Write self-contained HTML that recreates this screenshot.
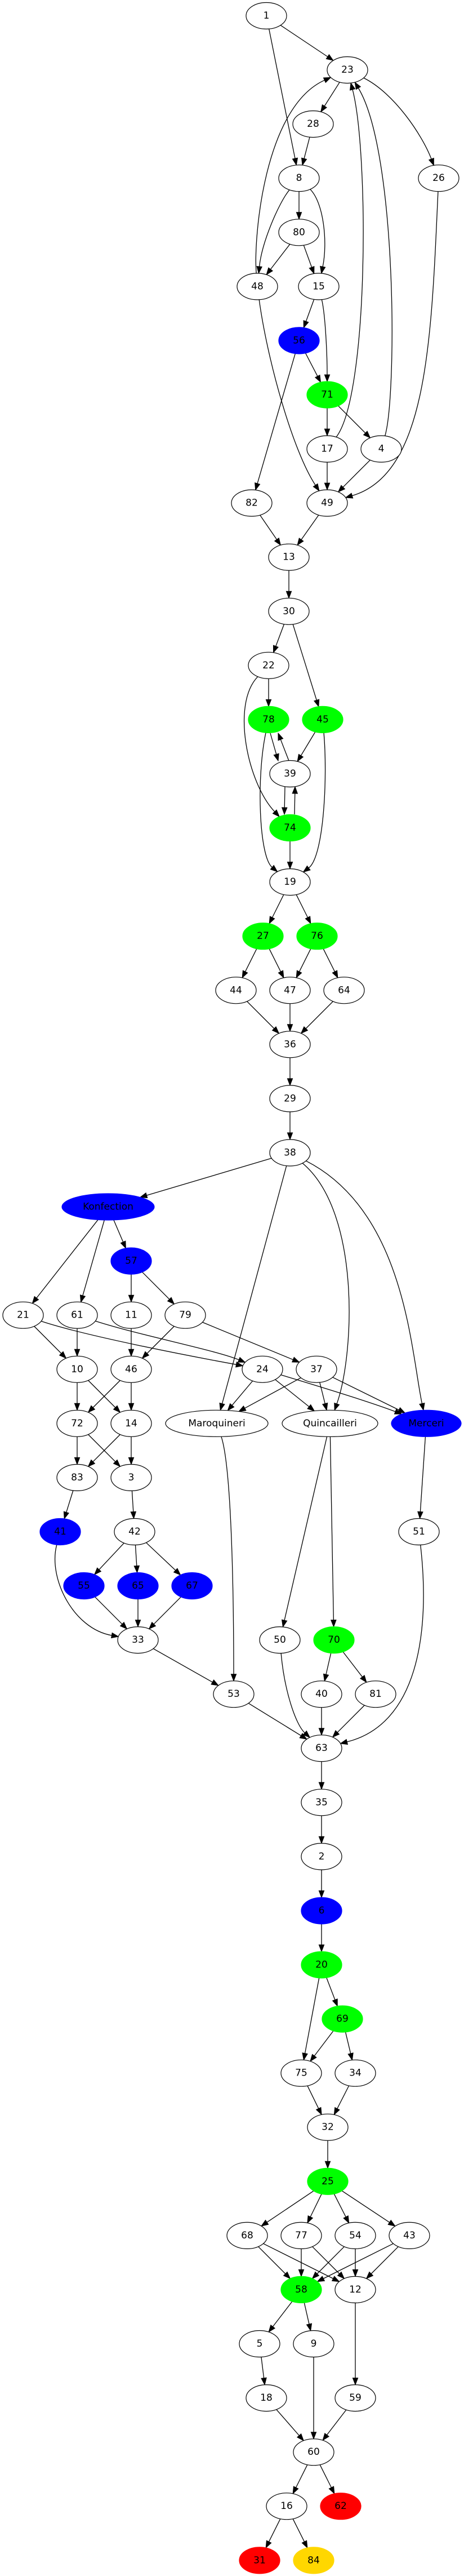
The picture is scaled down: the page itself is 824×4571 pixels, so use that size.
<!DOCTYPE html>
<html><head><meta charset="utf-8"><style>
html,body{margin:0;padding:0;background:#fff}
svg{display:block}
text{font-family:"DejaVu Sans","Liberation Sans",sans-serif;font-size:17px;fill:#000;stroke:none;text-anchor:middle;dominant-baseline:central}
</style></head><body>
<svg id="g" width="824" height="4571" viewBox="0 0 824 4571" xmlns="http://www.w3.org/2000/svg">
<g id="edges" stroke="#000" stroke-width="1.3" fill="none"></g>
<g id="arrows" fill="#000" stroke="#000" stroke-width="1"></g>
<g id="nodes" stroke="#000" stroke-width="1.2">
<ellipse cx="473" cy="28" rx="36" ry="23.5" fill="#fff"/><text x="473" y="28">1</text>
<ellipse cx="617" cy="124.1" rx="36" ry="23.5" fill="#fff"/><text x="617" y="124.1">23</text>
<ellipse cx="556" cy="220.1" rx="36" ry="23.5" fill="#fff"/><text x="556" y="220.1">28</text>
<ellipse cx="531" cy="316.2" rx="36" ry="23.5" fill="#fff"/><text x="531" y="316.2">8</text>
<ellipse cx="779" cy="316.2" rx="36" ry="23.5" fill="#fff"/><text x="779" y="316.2">26</text>
<ellipse cx="531" cy="412.3" rx="36" ry="23.5" fill="#fff"/><text x="531" y="412.3">80</text>
<ellipse cx="457" cy="508.4" rx="36" ry="23.5" fill="#fff"/><text x="457" y="508.4">48</text>
<ellipse cx="566" cy="508.4" rx="36" ry="23.5" fill="#fff"/><text x="566" y="508.4">15</text>
<ellipse cx="531" cy="604.4" rx="36" ry="23.5" fill="#0000ff" stroke="#0000ff"/><text x="531" y="604.4">56</text>
<ellipse cx="581" cy="700.5" rx="36" ry="23.5" fill="#00ff00" stroke="#00ff00"/><text x="581" y="700.5">71</text>
<ellipse cx="581" cy="796.6" rx="36" ry="23.5" fill="#fff"/><text x="581" y="796.6">17</text>
<ellipse cx="677" cy="796.6" rx="36" ry="23.5" fill="#fff"/><text x="677" y="796.6">4</text>
<ellipse cx="447" cy="892.6" rx="36" ry="23.5" fill="#fff"/><text x="447" y="892.6">82</text>
<ellipse cx="581" cy="892.6" rx="36" ry="23.5" fill="#fff"/><text x="581" y="892.6">49</text>
<ellipse cx="513" cy="988.7" rx="36" ry="23.5" fill="#fff"/><text x="513" y="988.7">13</text>
<ellipse cx="513" cy="1084.8" rx="36" ry="23.5" fill="#fff"/><text x="513" y="1084.8">30</text>
<ellipse cx="477" cy="1180.8" rx="36" ry="23.5" fill="#fff"/><text x="477" y="1180.8">22</text>
<ellipse cx="477" cy="1276.9" rx="36" ry="23.5" fill="#00ff00" stroke="#00ff00"/><text x="477" y="1276.9">78</text>
<ellipse cx="573" cy="1276.9" rx="36" ry="23.5" fill="#00ff00" stroke="#00ff00"/><text x="573" y="1276.9">45</text>
<ellipse cx="515" cy="1373" rx="36" ry="23.5" fill="#fff"/><text x="515" y="1373">39</text>
<ellipse cx="515" cy="1469" rx="36" ry="23.5" fill="#00ff00" stroke="#00ff00"/><text x="515" y="1469">74</text>
<ellipse cx="515" cy="1565.1" rx="36" ry="23.5" fill="#fff"/><text x="515" y="1565.1">19</text>
<ellipse cx="467" cy="1661.2" rx="36" ry="23.5" fill="#00ff00" stroke="#00ff00"/><text x="467" y="1661.2">27</text>
<ellipse cx="563" cy="1661.2" rx="36" ry="23.5" fill="#00ff00" stroke="#00ff00"/><text x="563" y="1661.2">76</text>
<ellipse cx="419" cy="1757.3" rx="36" ry="23.5" fill="#fff"/><text x="419" y="1757.3">44</text>
<ellipse cx="515" cy="1757.3" rx="36" ry="23.5" fill="#fff"/><text x="515" y="1757.3">47</text>
<ellipse cx="611" cy="1757.3" rx="36" ry="23.5" fill="#fff"/><text x="611" y="1757.3">64</text>
<ellipse cx="515" cy="1853.3" rx="36" ry="23.5" fill="#fff"/><text x="515" y="1853.3">36</text>
<ellipse cx="515" cy="1949.4" rx="36" ry="23.5" fill="#fff"/><text x="515" y="1949.4">29</text>
<ellipse cx="515" cy="2045.5" rx="36" ry="23.5" fill="#fff"/><text x="515" y="2045.5">38</text>
<ellipse cx="192" cy="2141.5" rx="82" ry="23.5" fill="#0000ff" stroke="#0000ff"/><text x="192" y="2141.5">Konfection</text>
<ellipse cx="233" cy="2237.6" rx="36" ry="23.5" fill="#0000ff" stroke="#0000ff"/><text x="233" y="2237.6">57</text>
<ellipse cx="41" cy="2333.7" rx="36" ry="23.5" fill="#fff"/><text x="41" y="2333.7">21</text>
<ellipse cx="137" cy="2333.7" rx="36" ry="23.5" fill="#fff"/><text x="137" y="2333.7">61</text>
<ellipse cx="233" cy="2333.7" rx="36" ry="23.5" fill="#fff"/><text x="233" y="2333.7">11</text>
<ellipse cx="329" cy="2333.7" rx="36" ry="23.5" fill="#fff"/><text x="329" y="2333.7">79</text>
<ellipse cx="137" cy="2429.8" rx="36" ry="23.5" fill="#fff"/><text x="137" y="2429.8">10</text>
<ellipse cx="233" cy="2429.8" rx="36" ry="23.5" fill="#fff"/><text x="233" y="2429.8">46</text>
<ellipse cx="466" cy="2429.8" rx="36" ry="23.5" fill="#fff"/><text x="466" y="2429.8">24</text>
<ellipse cx="562" cy="2429.8" rx="36" ry="23.5" fill="#fff"/><text x="562" y="2429.8">37</text>
<ellipse cx="137" cy="2525.8" rx="36" ry="23.5" fill="#fff"/><text x="137" y="2525.8">72</text>
<ellipse cx="233" cy="2525.8" rx="36" ry="23.5" fill="#fff"/><text x="233" y="2525.8">14</text>
<ellipse cx="385" cy="2525.8" rx="91" ry="23.5" fill="#fff"/><text x="385" y="2525.8">Maroquineri</text>
<ellipse cx="586" cy="2525.8" rx="85" ry="23.5" fill="#fff"/><text x="586" y="2525.8">Quincailleri</text>
<ellipse cx="757" cy="2525.8" rx="62" ry="23.5" fill="#0000ff" stroke="#0000ff"/><text x="757" y="2525.8">Merceri</text>
<ellipse cx="137" cy="2621.9" rx="36" ry="23.5" fill="#fff"/><text x="137" y="2621.9">83</text>
<ellipse cx="233" cy="2621.9" rx="36" ry="23.5" fill="#fff"/><text x="233" y="2621.9">3</text>
<ellipse cx="107" cy="2718" rx="36" ry="23.5" fill="#0000ff" stroke="#0000ff"/><text x="107" y="2718">41</text>
<ellipse cx="239" cy="2718" rx="36" ry="23.5" fill="#fff"/><text x="239" y="2718">42</text>
<ellipse cx="744" cy="2718" rx="36" ry="23.5" fill="#fff"/><text x="744" y="2718">51</text>
<ellipse cx="149" cy="2814" rx="36" ry="23.5" fill="#0000ff" stroke="#0000ff"/><text x="149" y="2814">55</text>
<ellipse cx="245" cy="2814" rx="36" ry="23.5" fill="#0000ff" stroke="#0000ff"/><text x="245" y="2814">65</text>
<ellipse cx="341" cy="2814" rx="36" ry="23.5" fill="#0000ff" stroke="#0000ff"/><text x="341" y="2814">67</text>
<ellipse cx="245" cy="2910.1" rx="36" ry="23.5" fill="#fff"/><text x="245" y="2910.1">33</text>
<ellipse cx="497" cy="2910.1" rx="36" ry="23.5" fill="#fff"/><text x="497" y="2910.1">50</text>
<ellipse cx="593" cy="2910.1" rx="36" ry="23.5" fill="#00ff00" stroke="#00ff00"/><text x="593" y="2910.1">70</text>
<ellipse cx="415" cy="3006.2" rx="36" ry="23.5" fill="#fff"/><text x="415" y="3006.2">53</text>
<ellipse cx="571" cy="3006.2" rx="36" ry="23.5" fill="#fff"/><text x="571" y="3006.2">40</text>
<ellipse cx="667" cy="3006.2" rx="36" ry="23.5" fill="#fff"/><text x="667" y="3006.2">81</text>
<ellipse cx="571" cy="3102.2" rx="36" ry="23.5" fill="#fff"/><text x="571" y="3102.2">63</text>
<ellipse cx="571" cy="3198.3" rx="36" ry="23.5" fill="#fff"/><text x="571" y="3198.3">35</text>
<ellipse cx="571" cy="3294.4" rx="36" ry="23.5" fill="#fff"/><text x="571" y="3294.4">2</text>
<ellipse cx="571" cy="3390.5" rx="36" ry="23.5" fill="#0000ff" stroke="#0000ff"/><text x="571" y="3390.5">6</text>
<ellipse cx="571" cy="3486.5" rx="36" ry="23.5" fill="#00ff00" stroke="#00ff00"/><text x="571" y="3486.5">20</text>
<ellipse cx="608" cy="3582.6" rx="36" ry="23.5" fill="#00ff00" stroke="#00ff00"/><text x="608" y="3582.6">69</text>
<ellipse cx="535" cy="3678.7" rx="36" ry="23.5" fill="#fff"/><text x="535" y="3678.7">75</text>
<ellipse cx="631" cy="3678.7" rx="36" ry="23.5" fill="#fff"/><text x="631" y="3678.7">34</text>
<ellipse cx="582" cy="3774.7" rx="36" ry="23.5" fill="#fff"/><text x="582" y="3774.7">32</text>
<ellipse cx="582" cy="3870.8" rx="36" ry="23.5" fill="#00ff00" stroke="#00ff00"/><text x="582" y="3870.8">25</text>
<ellipse cx="439" cy="3966.9" rx="36" ry="23.5" fill="#fff"/><text x="439" y="3966.9">68</text>
<ellipse cx="535" cy="3966.9" rx="36" ry="23.5" fill="#fff"/><text x="535" y="3966.9">77</text>
<ellipse cx="631" cy="3966.9" rx="36" ry="23.5" fill="#fff"/><text x="631" y="3966.9">54</text>
<ellipse cx="727" cy="3966.9" rx="36" ry="23.5" fill="#fff"/><text x="727" y="3966.9">43</text>
<ellipse cx="535" cy="4062.9" rx="36" ry="23.5" fill="#00ff00" stroke="#00ff00"/><text x="535" y="4062.9">58</text>
<ellipse cx="631" cy="4062.9" rx="36" ry="23.5" fill="#fff"/><text x="631" y="4062.9">12</text>
<ellipse cx="461" cy="4159" rx="36" ry="23.5" fill="#fff"/><text x="461" y="4159">5</text>
<ellipse cx="557" cy="4159" rx="36" ry="23.5" fill="#fff"/><text x="557" y="4159">9</text>
<ellipse cx="473" cy="4255.1" rx="36" ry="23.5" fill="#fff"/><text x="473" y="4255.1">18</text>
<ellipse cx="631" cy="4255.1" rx="36" ry="23.5" fill="#fff"/><text x="631" y="4255.1">59</text>
<ellipse cx="557" cy="4351.2" rx="36" ry="23.5" fill="#fff"/><text x="557" y="4351.2">60</text>
<ellipse cx="509" cy="4447.2" rx="36" ry="23.5" fill="#fff"/><text x="509" y="4447.2">16</text>
<ellipse cx="605" cy="4447.2" rx="36" ry="23.5" fill="#ff0000" stroke="#ff0000"/><text x="605" y="4447.2">62</text>
<ellipse cx="461" cy="4543.3" rx="36" ry="23.5" fill="#ff0000" stroke="#ff0000"/><text x="461" y="4543.3">31</text>
<ellipse cx="557" cy="4543.3" rx="36" ry="23.5" fill="#ffd700" stroke="#ffd700"/><text x="557" y="4543.3">84</text>
</g>
</svg>
<script>
(function(){
var N={};
var els=document.querySelectorAll('#nodes ellipse');
for(var i=0;i<els.length;i++){var e=els[i];var t=e.nextElementSibling.textContent;
N[t]={x:+e.getAttribute('cx'),y:+e.getAttribute('cy'),rx:+e.getAttribute('rx'),ry:+e.getAttribute('ry')};}
function bnd(n,dx,dy){var t=1/Math.sqrt((dx/n.rx)*(dx/n.rx)+(dy/n.ry)*(dy/n.ry));return [n.x+t*dx,n.y+t*dy];}
var E=[
['1','23'],['1','8'],['23','28'],['23','26',[700,165,750,240]],['28','8'],
['8','80'],['8','48',[495,360,465,430]],['8','15',[575,360,582,430]],['80','48'],['80','15'],
['48','23',[450,420,470,190]],['48','49',[475,640,520,800]],['15','56'],['15','71',[578,560,581,630]],
['56','71'],['56','82'],['71','17'],['71','4'],['17','23',[655,700,655,270]],['4','23',[705,700,705,270]],
['17','49'],['4','49'],['26','49',[766,600,760,840]],['82','13'],['49','13'],['13','30'],['30','22'],['30','45'],
['22','78'],['22','74',[410,1250,440,1390]],['78','19',[455,1380,460,1520]],['45','19',[582,1380,575,1520]],
['45','39'],['74','19'],
['P',480,1301,494,1350],['P',513,1350,494,1301],['P',506,1396,505,1445],['P',523,1445,524,1396],
['19','27'],['19','76'],['27','44'],['27','47'],['76','47'],['76','64'],['44','36'],['47','36'],['64','36'],
['36','29'],['29','38'],['38','Konfection'],['38','Maroquineri'],['38','Quincailleri',[640,2150,630,2400]],['38','Merceri',[720,2150,730,2400]],
['Konfection','21'],['Konfection','61'],['Konfection','57'],['57','11'],['57','79'],
['21','10'],['21','24',[150,2370,330,2405]],['61','10'],['61','24',[250,2370,380,2395]],['11','46'],['79','46'],['79','37'],
['10','72'],['10','14'],['46','72'],['46','14'],
['24','Maroquineri'],['24','Quincailleri'],['24','Merceri',[550,2455,650,2485]],['37','Maroquineri'],['37','Quincailleri'],['37','Merceri'],
['72','83'],['72','3'],['14','83'],['14','3'],['83','41'],['3','42'],['Merceri','51'],
['Maroquineri','53',[410,2600,415,2800]],['Quincailleri','50'],['Quincailleri','70'],
['41','33',[85,2800,130,2890]],['42','55'],['42','65'],['42','67'],['55','33'],['65','33'],['67','33'],
['33','53'],['50','63',[505,3000,525,3060]],['70','40'],['70','81'],['53','63'],['40','63'],['81','63'],['51','63',[765,2900,740,3060]],
['63','35'],['35','2'],['2','6'],['6','20'],['20','69'],['20','75'],['69','75'],['69','34'],['75','32'],['34','32'],['32','25'],
['25','68'],['25','77'],['25','54'],['25','43'],
['68','58'],['68','12'],['77','58'],['77','12'],['54','58'],['54','12'],['43','58'],['43','12'],
['58','5'],['58','9'],['12','59'],['5','18'],['9','60'],['18','60'],['59','60'],['60','16'],['60','62'],['16','31'],['16','84']
];
var eg=document.getElementById('edges'),ag=document.getElementById('arrows');
var NS='http://www.w3.org/2000/svg',AL=12,AW=4.6;
function arrow(tx,ty,ux,uy){var px=-uy,py=ux;var bx=tx-ux*AL,by=ty-uy*AL;
var p=document.createElementNS(NS,'polygon');
p.setAttribute('points',tx+','+ty+' '+(bx+px*AW)+','+(by+py*AW)+' '+(bx-px*AW)+','+(by-py*AW));ag.appendChild(p);return [bx,by];}
function path(d){var p=document.createElementNS(NS,'path');p.setAttribute('d',d);eg.appendChild(p);}
E.forEach(function(e){
if(e[0]==='P'){var dx=e[3]-e[1],dy=e[4]-e[2],l=Math.hypot(dx,dy);var b=arrow(e[3],e[4],dx/l,dy/l);
path('M'+e[1]+','+e[2]+'L'+b[0]+','+b[1]);return;}
var s=N[e[0]],t=N[e[1]];
if(!e[2]){var dx=t.x-s.x,dy=t.y-s.y;var a=bnd(s,dx,dy),z=bnd(t,-dx,-dy);
var l=Math.hypot(z[0]-a[0],z[1]-a[1]);var b=arrow(z[0],z[1],(z[0]-a[0])/l,(z[1]-a[1])/l);
path('M'+a[0]+','+a[1]+'L'+b[0]+','+b[1]);}
else{var c=e[2];var a=bnd(s,c[0]-s.x,c[1]-s.y),z=bnd(t,c[2]-t.x,c[3]-t.y);
var dx=z[0]-c[2],dy=z[1]-c[3],l=Math.hypot(dx,dy);var b=arrow(z[0],z[1],dx/l,dy/l);
path('M'+a[0]+','+a[1]+'C'+c[0]+','+c[1]+' '+c[2]+','+c[3]+' '+b[0]+','+b[1]);}
});
})();
</script>
</body></html>
